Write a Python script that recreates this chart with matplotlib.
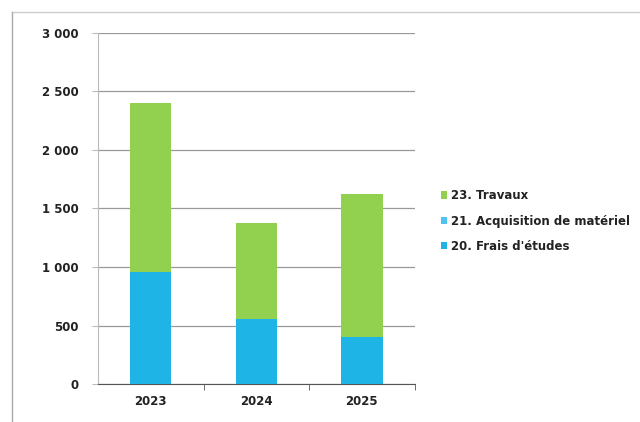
import matplotlib.pyplot as plt
import numpy as np

# donnees
annees = ["2023", "2024", "2025"]
frais_etudes = [960, 555, 400]
acquisition = [0, 0, 0]
travaux = [1440, 825, 1225]
graduations = [0, 500, 1000, 1500, 2000, 2500, 3000]
etiquettes_y = ["0", "500", "1 000", "1 500", "2 000", "2 500", "3 000"]

vert = "#92d050"
bleu_clair = "#4fc3f0"
bleu = "#1fb4e6"

fig = plt.figure(figsize=(6.4, 4.22), dpi=100)
ax = fig.add_axes([0.153, 0.09, 0.495, 0.832])

x = np.arange(len(annees))
bas = np.array(frais_etudes)
ax.bar(x, frais_etudes, width=0.39, color=bleu, label="20. Frais d'études", zorder=3)
ax.bar(x, acquisition, width=0.39, bottom=bas, color=bleu_clair,
       label="21. Acquisition de matériel", zorder=3)
bas = bas + np.array(acquisition)
ax.bar(x, travaux, width=0.39, bottom=bas, color=vert, label="23. Travaux", zorder=3)

ax.set_ylim(0, 3000)
ax.set_xlim(-0.5, 2.5)
ax.set_yticks(graduations)
ax.set_yticklabels(etiquettes_y)
ax.set_xticks(x)
ax.set_xticklabels(annees)
ax.set_xticks([0.5, 1.5, 2.5], minor=True)
ax.tick_params(axis="x", which="major", length=0, pad=8)
ax.tick_params(axis="x", which="minor", length=4, color="#555555")
ax.tick_params(axis="y", length=4, color="#bbbbbb", pad=10)
for lab in ax.get_xticklabels() + ax.get_yticklabels():
    lab.set_fontweight("bold")
    lab.set_fontsize(8.5)
    lab.set_color("#222222")

ax.grid(axis="y", color="#999999", linewidth=0.9, zorder=0)
for s in ["top", "right"]:
    ax.spines[s].set_visible(False)
ax.spines["left"].set_color("#bbbbbb")
ax.spines["bottom"].set_color("#555555")

handles, labels = ax.get_legend_handles_labels()
leg = fig.legend(handles[::-1], labels[::-1], loc="center left",
                 bbox_to_anchor=(0.672, 0.476), frameon=False,
                 handlelength=0.55, handleheight=0.55, handletextpad=0.3,
                 labelspacing=1.05, prop={"weight": "semibold", "size": 8.5})
for t in leg.get_texts():
    t.set_color("#222222")

# cadre du graphique
fig.add_artist(plt.Line2D([0.019, 1.0], [0.972, 0.972], color="#cccccc", lw=1))
fig.add_artist(plt.Line2D([0.019, 0.019], [0.0, 0.972], color="#aaaaaa", lw=1))

fig.savefig("out.png", dpi=100)
